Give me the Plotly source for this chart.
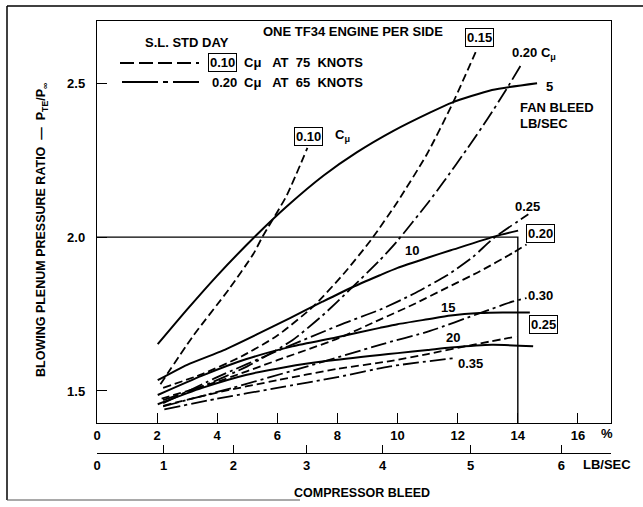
import plotly.graph_objects as go

# ---------------- DATA ----------------
# x = compressor bleed (%), y = blowing plenum pressure ratio PTE/Pinf
# Fan bleed curves (solid), lb/sec
fan5_x = [2.02, 3.0, 4.0, 5.29, 6.32, 7.54, 8.64, 9.86, 11.09, 11.81, 13.14, 14.64]
fan5_y = [1.652, 1.765, 1.875, 2.005, 2.100, 2.200, 2.275, 2.345, 2.405, 2.437, 2.478, 2.500]
fan10_x = [2.02, 3.0, 4.2, 5.3, 6.42, 7.5, 8.4, 9.41, 10.0, 11.0, 11.77, 13.27, 14.01]
fan10_y = [1.535, 1.585, 1.632, 1.683, 1.737, 1.790, 1.833, 1.876, 1.900, 1.933, 1.957, 2.003, 2.021]
fan15_x = [2.02, 3.5, 4.95, 6.5, 7.95, 9.41, 10.0, 11.0, 11.77, 12.73, 13.5, 14.40]
fan15_y = [1.487, 1.550, 1.603, 1.645, 1.674, 1.705, 1.717, 1.733, 1.745, 1.753, 1.755, 1.755]
fan20_x = [2.02, 3.5, 4.95, 6.3, 7.68, 9.41, 10.0, 11.0, 11.77, 13.14, 14.51]
fan20_y = [1.457, 1.510, 1.552, 1.578, 1.598, 1.617, 1.623, 1.633, 1.641, 1.650, 1.645]

# C_mu curves at 75 knots (dashed, boxed labels)
c75_010_x = [2.11, 3.17, 4.40, 5.2, 5.5, 6.31, 7.0]
c75_010_y = [1.522, 1.675, 1.832, 1.945, 2.000, 2.135, 2.290]
c75_015_x = [2.2, 3.5, 4.8, 6.0, 7.2, 8.2, 9.11, 10.0, 10.98, 11.81, 12.64]
c75_015_y = [1.510, 1.555, 1.612, 1.680, 1.775, 1.880, 1.990, 2.115, 2.270, 2.430, 2.610]
c75_020_x = [2.15, 4.0, 6.0, 8.0, 9.41, 10.52, 11.63, 12.74, 13.84, 14.29]
c75_020_y = [1.475, 1.530, 1.600, 1.670, 1.732, 1.781, 1.835, 1.889, 1.949, 1.976]
c75_025_x = [2.2, 4.0, 6.0, 8.0, 9.75, 11.0, 12.5, 13.95]
c75_025_y = [1.452, 1.495, 1.535, 1.572, 1.597, 1.620, 1.650, 1.677]

# C_mu curves at 65 knots (dash-dot, plain labels)
c65_020_x = [2.2, 3.5, 5.0, 6.5, 7.5, 8.42, 9.41, 9.97, 11.0, 11.52, 12.3, 13.0, 13.6, 14.14]
c65_020_y = [1.470, 1.515, 1.580, 1.665, 1.745, 1.830, 1.925, 1.985, 2.110, 2.178, 2.285, 2.385, 2.477, 2.565]
c65_025_x = [2.2, 4.0, 6.0, 8.09, 9.41, 10.52, 11.63, 12.5, 13.2, 14.35]
c65_025_y = [1.460, 1.545, 1.630, 1.715, 1.764, 1.815, 1.875, 1.935, 1.997, 2.074]
c65_030_x = [2.2, 4.5, 7.0, 9.41, 11.08, 12.74, 13.84, 14.29]
c65_030_y = [1.450, 1.510, 1.580, 1.650, 1.695, 1.753, 1.791, 1.802]
c65_035_x = [2.24, 4.0, 6.0, 8.0, 9.75, 11.9]
c65_035_y = [1.440, 1.475, 1.510, 1.545, 1.580, 1.607]

# Operating limit box
limit_pct = 14.0
limit_ratio = 2.0

# Axis ticks
pct_ticks = [0, 2, 4, 6, 8, 10, 12, 14, 16]
ratio_ticks = [1.5, 2.0, 2.5]
ratio_labels = ["1.5", "2.0", "2.5"]
lbsec_labels = ["0", "1", "2", "3", "4", "5", "6"]
lbsec_pos_pct = [0.0, 2.22, 4.54, 6.97, 9.50, 12.43, 15.45]

X_RANGE = [0, 17.1]
Y_RANGE = [1.396, 2.702]

# ---------------- FIGURE ----------------
FONT = "Liberation Sans, Arial, sans-serif"
W, H = 643, 507
ML, MR, MT, MB = 97, 32, 21, 54
PW, PH = W - ML - MR, H - MT - MB

def px(xp):
    return (xp - ML) / PW

def py(yp):
    return (H - MB - yp) / PH

fig = go.Figure()

solid = dict(color="black", width=2.0)
dashed = dict(color="black", width=1.8, dash="8px,4px")
dashdot = dict(color="black", width=1.8, dash="16px,4px,3px,4px")

for xs, ys, ln in [
    (fan5_x, fan5_y, solid), (fan10_x, fan10_y, solid),
    (fan15_x, fan15_y, solid), (fan20_x, fan20_y, solid),
    (c75_010_x, c75_010_y, dashed), (c75_015_x, c75_015_y, dashed),
    (c75_020_x, c75_020_y, dashed), (c75_025_x, c75_025_y, dashed),
    (c65_020_x, c65_020_y, dashdot), (c65_025_x, c65_025_y, dashdot),
    (c65_030_x, c65_030_y, dashdot), (c65_035_x, c65_035_y, dashdot),
]:
    fig.add_trace(go.Scatter(x=xs, y=ys, mode="lines",
                             line=dict(shape="spline", smoothing=0.6, **ln),
                             showlegend=False, hoverinfo="skip"))

# limit lines
fig.add_trace(go.Scatter(x=[0, limit_pct, limit_pct], y=[limit_ratio, limit_ratio, Y_RANGE[0]],
                         mode="lines", line=dict(color="black", width=1.4),
                         showlegend=False, hoverinfo="skip"))

# secondary axis carrier trace
fig.add_trace(go.Scatter(x=[None], y=[None], xaxis="x2", yaxis="y", showlegend=False))

tickfont = dict(family=FONT, size=13, color="black")
fig.update_layout(
    width=W, height=H,
    margin=dict(l=ML, r=MR, t=MT, b=MB, pad=0),
    paper_bgcolor="white", plot_bgcolor="white",
    showlegend=False,
    font=dict(family=FONT, size=13, color="black"),
    xaxis=dict(range=X_RANGE, tickvals=pct_ticks, ticktext=["<b>%d</b>" % v for v in pct_ticks],
               ticks="inside", ticklen=10,
               tickwidth=1.3, tickcolor="black", showline=True, linecolor="black",
               linewidth=1.4, mirror=True, showgrid=False, zeroline=False,
               tickfont=tickfont, anchor="y"),
    xaxis2=dict(range=X_RANGE, tickvals=lbsec_pos_pct, ticktext=["<b>%s</b>" % s for s in lbsec_labels],
                ticks="inside", ticklen=8, tickwidth=1.3, tickcolor="black",
                showline=True, linecolor="black", linewidth=1.4, showgrid=False,
                zeroline=False, tickfont=tickfont, overlaying="x", anchor="free",
                position=0, side="bottom"),
    yaxis=dict(range=Y_RANGE, domain=[(H - MB - 423) / PH, 1], tickvals=ratio_ticks,
               ticktext=["<b>%s</b>" % s for s in ratio_labels], ticks="inside", ticklen=10,
               tickwidth=1.3, tickcolor="black", showline=True, linecolor="black",
               linewidth=1.4, mirror=True, showgrid=False, zeroline=False,
               tickfont=tickfont, ticklabelstandoff=8),
)

ann = []
def A(text, x, y, xref="x", yref="y", size=13, xanchor="center", box=False, **kw):
    d = dict(text=text, x=x, y=y, xref=xref, yref=yref, showarrow=False,
             font=dict(family=FONT, size=size, color="black"), xanchor=xanchor,
             yanchor="middle")
    if box:
        d.update(bordercolor="black", borderwidth=1, borderpad=1, bgcolor="white")
    d.update(kw)
    ann.append(d)

B = lambda s: "<b>" + s + "</b>"
CMU = "C<sub>μ</sub>"
NB = "\u00a0"

# curve labels
A(B("10"), 10.48, 1.955)
A(B("15"), 11.68, 1.772)
A(B("20"), 11.84, 1.674)
A(B("0.35"), 12.41, 1.590)
A(B("0.30"), 14.77, 1.811)
A(B("0.25"), 14.32, 2.098)
A(B("0.20"), 14.77, 2.013, box=True)
A(B("0.25"), 14.87, 1.717, box=True)
A(B("0.15"), 12.74, 2.648, box=True)
A(B("0.10"), 7.03, 2.328, box=True)
A(B(CMU), 8.18, 2.33)
A(B("0.20 " + CMU), 14.55, 2.596)
A(B("5"), 15.07, 2.490)
A(B("FAN BLEED"), 14.0, 2.420, xanchor="left")
A(B("LB/SEC"), 14.0, 2.368, xanchor="left")

# header texts
legend_tail_75 = "Cμ" + NB * 3 + "AT" + NB * 2 + "75" + NB * 2 + "KNOTS"
legend_tail_65 = "Cμ" + NB * 3 + "AT" + NB * 2 + "65" + NB * 2 + "KNOTS"
A(B("ONE TF34 ENGINE PER SIDE"), px(353), py(32), xref="paper", yref="paper")
A(B("S.L. STD DAY"), px(187), py(42), xref="paper", yref="paper")
A(B("0.10"), px(222), py(63), xref="paper", yref="paper", box=True)
A(B(legend_tail_75), px(242), py(63), xref="paper", yref="paper", xanchor="left")
A(B("0.20"), px(224), py(82), xref="paper", yref="paper")
A(B(legend_tail_65), px(242), py(82), xref="paper", yref="paper", xanchor="left")

# axis texts
A(B("%"), px(607), py(433), xref="paper", yref="paper")
A(B("LB/SEC"), px(607), py(465), xref="paper", yref="paper")
A(B("COMPRESSOR BLEED"), px(362), py(493), xref="paper", yref="paper", size=12.5)
A(B("BLOWING PLENUM PRESSURE RATIO  —  P<sub>TE</sub>/P<sub>∞</sub>"), px(42), py(230),
  xref="paper", yref="paper", size=12.5, textangle=-90)

fig.update_layout(annotations=ann)

shapes = []
# legend sample lines
shapes.append(dict(type="line", xref="paper", yref="paper", x0=px(120), x1=px(199),
                   y0=py(63), y1=py(63), line=dict(color="black", width=1.8, dash="14px,5px")))
shapes.append(dict(type="line", xref="paper", yref="paper", x0=px(122), x1=px(199),
                   y0=py(82), y1=py(82), line=dict(color="black", width=1.8, dash="36px,5px,5px,5px")))
# outer page frame
shapes.append(dict(type="line", xref="paper", yref="paper", x0=px(7), x1=px(7),
                   y0=py(6), y1=py(500), line=dict(color="black", width=1.5)))
shapes.append(dict(type="line", xref="paper", yref="paper", x0=px(7), x1=px(643),
                   y0=py(6), y1=py(6), line=dict(color="black", width=1.5)))
shapes.append(dict(type="line", xref="paper", yref="paper", x0=px(7), x1=px(300),
                   y0=py(500), y1=py(500), line=dict(color="#555555", width=1.2)))
fig.update_layout(shapes=shapes)

fig.write_html("out.html", config={"displayModeBar": False},
               post_script="document.body.style.margin='0px';")
